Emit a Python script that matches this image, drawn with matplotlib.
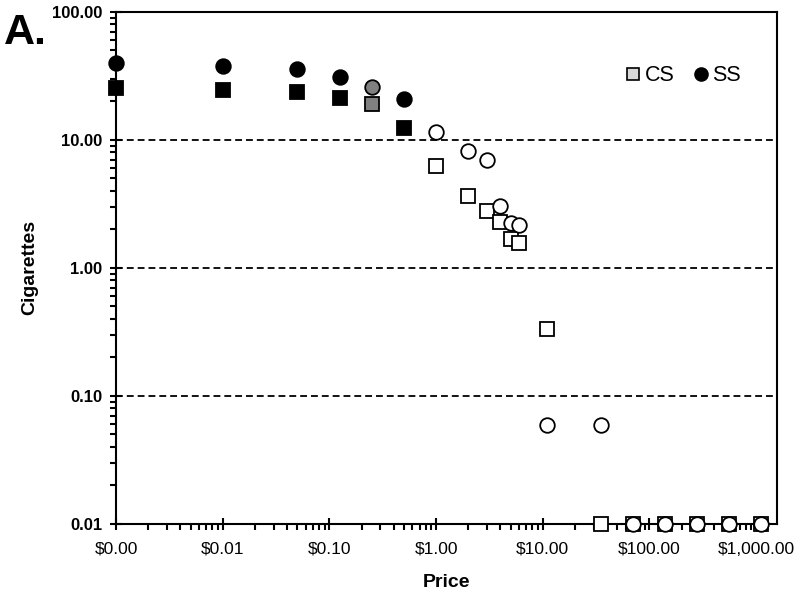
import numpy as np
import matplotlib
matplotlib.use('Agg')
import matplotlib.pyplot as plt
from matplotlib.lines import Line2D
from matplotlib.ticker import LogLocator, NullFormatter

plt.rcParams['font.family'] = ['Liberation Sans', 'DejaVu Sans']

# price ($0 shown at 0.001) and consumption per condition
price = np.array([0.001, 0.01, 0.05, 0.125, 0.25, 0.5, 1, 2, 3, 4, 5, 6,
                  11, 35, 70, 140, 280, 560, 1120])
cs = np.array([25.5, 24.6, 23.7, 21.3, 18.9, 12.4, 6.26, 3.67, 2.79, 2.29,
               1.68, 1.56, 0.332, 0.01, 0.01, 0.01, 0.01, 0.01, 0.01])
ss = np.array([39.5, 38.0, 35.9, 31.0, 25.9, 20.9, 11.5, 8.2, 7.0, 3.07,
               2.25, 2.18, 0.059, 0.059, 0.01, 0.01, 0.01, 0.01, 0.01])
# fill of each point: 'k' filled, 'g' grey, 'w' open
fill = ['k', 'k', 'k', 'k', 'g', 'k'] + ['w'] * 13

x_ticks = [0.001, 0.01, 0.1, 1, 10, 100, 1000]
x_labels = ['$0.00', '$0.01', '$0.10', '$1.00', '$10.00', '$100.00', '$1,000.00']
y_ticks = [0.01, 0.1, 1, 10, 100]
y_labels = ['0.01', '0.10', '1.00', '10.00', '100.00']

colors = {'k': 'black', 'g': '#808080', 'w': 'white'}

fig = plt.figure(figsize=(8, 5.92), dpi=100)
ax = fig.add_axes([0.145, 0.115, 0.826, 0.865])
ax.set_xscale('log')
ax.set_yscale('log')
ax.set_xlim(0.001, 1560)
ax.set_ylim(0.01, 100)

for yv in [0.1, 1, 10]:
    ax.axhline(yv, color='black', lw=1.3, ls=(0, (3.8, 2.2)), zorder=1)

# squares first, circles drawn over them
for i in range(len(price)):
    ax.plot(price[i], cs[i], 's', ms=10, mfc=colors[fill[i]], mec='black', mew=1.3,
            clip_on=False, zorder=3)
for i in range(len(price)):
    ax.plot(price[i], ss[i], 'o', ms=10.5, mfc=colors[fill[i]], mec='black', mew=1.3,
            clip_on=False, zorder=4)

ax.set_xticks(x_ticks)
ax.set_xticklabels(x_labels, fontsize=12.5)
ax.set_yticks(y_ticks)
ax.set_yticklabels(y_labels, fontsize=12, fontweight='bold')
ax.xaxis.set_minor_locator(LogLocator(base=10, subs=np.arange(2, 10), numticks=20))
ax.yaxis.set_minor_locator(LogLocator(base=10, subs=np.arange(2, 10), numticks=20))
ax.xaxis.set_minor_formatter(NullFormatter())
ax.yaxis.set_minor_formatter(NullFormatter())
ax.tick_params(which='major', direction='inout', length=8, width=1.5, pad=6)
ax.tick_params(which='minor', direction='out', length=4, width=1.5)
ax.tick_params(axis='x', which='major', pad=9)
for s in ax.spines.values():
    s.set_linewidth(1.5)

ax.set_xlabel('Price', fontsize=14, fontweight='bold', labelpad=12)
ax.set_ylabel('Cigarettes', fontsize=14, fontweight='bold', labelpad=10)

fig.text(0.005, 0.926, 'A.', fontsize=31, fontweight='bold')

handles = [Line2D([], [], marker='s', ls='none', ms=9, mfc='#d9d9d9', mec='black', mew=1.2),
           Line2D([], [], marker='o', ls='none', ms=9.5, mfc='black', mec='black')]
ax.legend(handles, ['CS', 'SS'], ncol=2, frameon=False, fontsize=15.5,
          handletextpad=0.05, columnspacing=0.7, handlelength=1.0,
          loc='center', bbox_to_anchor=(0.856, 0.875))

fig.savefig('out.png', dpi=100)
